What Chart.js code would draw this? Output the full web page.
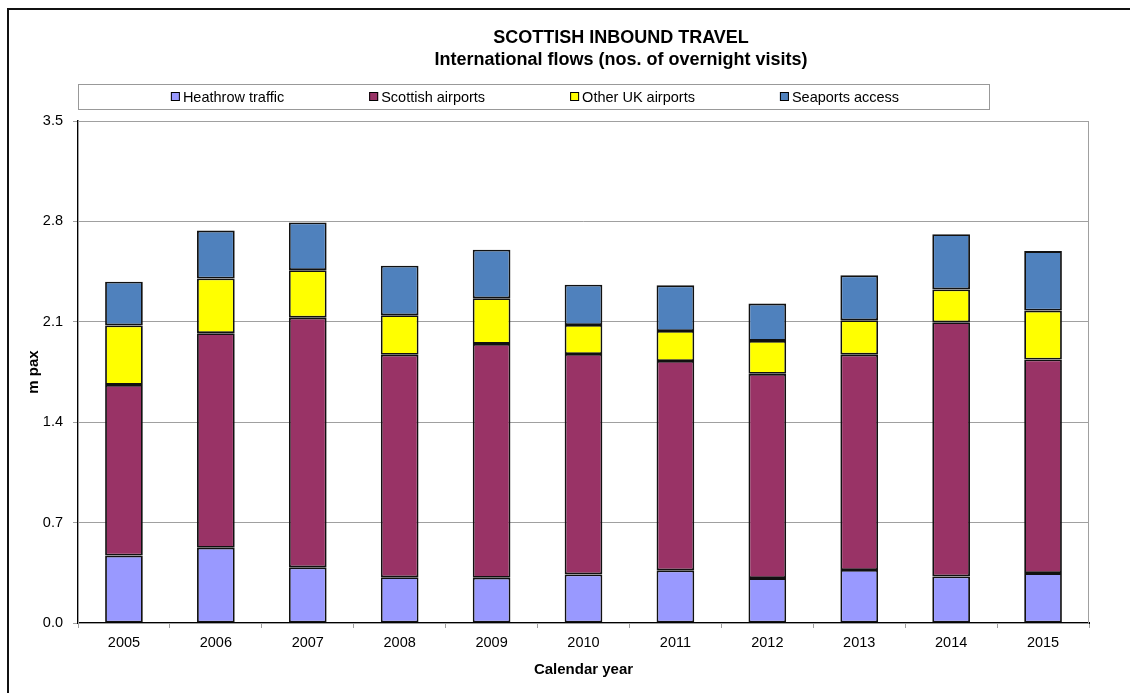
<!DOCTYPE html>
<html>
<head>
<meta charset="utf-8">
<script src="https://cdn.jsdelivr.net/npm/chart.js@4.4.0/dist/chart.umd.min.js"></script>
<style>
  body { margin: 0; background: #fff; }
  #wrap { width: 1130px; height: 693px; }
</style>
</head>
<body>
<div id="wrap"><canvas id="chart" width="1130" height="693"></canvas></div>
<script>
const years = ["2005", "2006", "2007", "2008", "2009", "2010", "2011", "2012", "2013", "2014", "2015"];
const heathrow = [0.47, 0.525, 0.388, 0.319, 0.316, 0.339, 0.367, 0.313, 0.369, 0.325, 0.348];
const scottishAirports = [1.19, 1.496, 1.741, 1.551, 1.63, 1.537, 1.46, 1.424, 1.502, 1.772, 1.489];
const otherUK = [0.415, 0.381, 0.331, 0.276, 0.318, 0.202, 0.209, 0.23, 0.24, 0.229, 0.341];
const seaports = [0.305, 0.334, 0.333, 0.345, 0.339, 0.281, 0.318, 0.26, 0.313, 0.384, 0.415];
const yTicks = [0, 0.7, 1.4, 2.1, 2.8, 3.5];

const titleLines = ["SCOTTISH INBOUND TRAVEL", "International flows (nos. of overnight visits)"];
const font = "'Liberation Sans', Arial, sans-serif";

// frame, title and boxed legend drawn around the chart
const decorations = {
    id: "decorations",
    beforeDraw(chart) {
        const ctx = chart.ctx;
        ctx.save();
        ctx.fillStyle = "#fff";
        ctx.fillRect(0, 0, chart.width, chart.height);
        ctx.strokeStyle = "#111";
        ctx.lineWidth = 2;
        ctx.beginPath();
        ctx.moveTo(8, chart.height);
        ctx.lineTo(8, 9);
        ctx.lineTo(chart.width, 9);
        ctx.stroke();

        ctx.fillStyle = "#000";
        ctx.textAlign = "center";
        ctx.textBaseline = "middle";
        ctx.font = "bold 18px " + font;
        ctx.fillText(titleLines[0], 621, 38);
        ctx.fillText(titleLines[1], 621, 60);

        // legend box
        const bx = 78, by = 84, bw = 911, bh = 25;
        ctx.strokeStyle = "#999";
        ctx.lineWidth = 1;
        ctx.strokeRect(bx + 0.5, by + 0.5, bw, bh);
        ctx.font = "14.5px " + font;
        ctx.textAlign = "left";
        const ds = chart.data.datasets;
        const gap = 84;
        const widths = ds.map(d => 13 + ctx.measureText(d.label).width);
        const total = widths.reduce((a, b) => a + b, 0) + gap * (ds.length - 1);
        let x = bx + bw / 2 - total / 2 + 2;
        const cy = by + bh / 2 + 0.5;
        ds.forEach((d, i) => {
            ctx.fillStyle = d.backgroundColor;
            ctx.fillRect(x, cy - 5, 9, 9);
            ctx.strokeStyle = "#000";
            ctx.strokeRect(x + 0.5, cy - 4.5, 8, 8);
            ctx.fillStyle = "#000";
            ctx.fillText(d.label, x + 12, cy + 1);
            x += widths[i] + gap;
        });
        ctx.restore();
    },
    beforeDatasetsDraw(chart) {
        const a = chart.chartArea;
        const ctx = chart.ctx;
        ctx.save();
        ctx.strokeStyle = "#a0a0a0";
        ctx.lineWidth = 1;
        ctx.strokeRect(a.left + 0.5, a.top + 0.5, a.right - a.left - 1, a.bottom - a.top);
        ctx.restore();
    }
};

function bars(label, data, color) {
    return {
        label: label,
        data: data,
        backgroundColor: color,
        borderColor: "#111",
        borderWidth: 1.8,
        borderSkipped: false,
        barPercentage: 0.41,
        categoryPercentage: 1.0
    };
}

new Chart(document.getElementById("chart"), {
    type: "bar",
    data: {
        labels: years,
        datasets: [
            bars("Heathrow traffic", heathrow, "#9999ff"),
            bars("Scottish airports", scottishAirports, "#993366"),
            bars("Other UK airports", otherUK, "#ffff00"),
            bars("Seaports access", seaports, "#4f81bd")
        ]
    },
    options: {
        responsive: false,
        animation: false,
        layout: { padding: { left: 0, top: 121, right: 41, bottom: 0 } },
        plugins: {
            legend: { display: false },
            title: { display: false },
            tooltip: { enabled: false }
        },
        scales: {
            x: {
                stacked: true,
                afterFit: s => { s.height = 70; },
                grid: { offset: true, drawOnChartArea: false, drawTicks: true, tickLength: 5, color: "#a0a0a0" },
                border: { color: "#000", width: 2 },
                ticks: { color: "#000", font: { family: font, size: 14.5 }, padding: 6, maxRotation: 0 },
                title: {
                    display: true, text: "Calendar year", color: "#000",
                    font: { family: font, size: 15, weight: "bold" },
                    padding: { top: 4, bottom: 14 }
                }
            },
            y: {
                stacked: true,
                min: 0,
                max: 3.5,
                afterFit: s => { s.width = 78; },
                afterBuildTicks: s => { s.ticks = yTicks.map(v => ({ value: v })); },
                grid: { color: "#a0a0a0", tickLength: 5, lineWidth: 1 },
                border: { color: "#000", width: 1.5 },
                ticks: {
                    color: "#000", font: { family: font, size: 14.5 }, padding: 10,
                    callback: v => Number(v).toFixed(1)
                },
                title: {
                    display: true, text: "m pax", color: "#000",
                    font: { family: font, size: 15, weight: "bold" },
                    padding: { top: 25, bottom: 0 }
                }
            }
        }
    },
    plugins: [decorations]
});
</script>
</body>
</html>
